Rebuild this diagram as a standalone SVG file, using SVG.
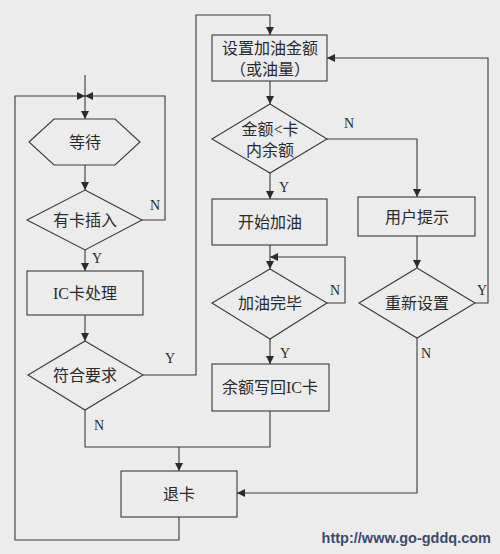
<svg xmlns="http://www.w3.org/2000/svg" width="500" height="554" viewBox="0 0 500 554">
<style>
.s{fill:none;stroke:#3a3a3a;stroke-width:1.1}
.c{fill:none;stroke:#3a3a3a;stroke-width:1.1}
.t{font-family:"Liberation Serif","Noto Sans CJK SC",serif;font-size:16px;fill:#2a2a2a;text-anchor:middle;dominant-baseline:central}
.l{font-family:"Liberation Serif","Noto Sans CJK SC",serif;font-size:14px;fill:#2a2a2a;text-anchor:middle;dominant-baseline:central}
</style>
<defs>
<marker id="a" viewBox="0 0 10 10" refX="10" refY="5" markerWidth="9" markerHeight="8" markerUnits="userSpaceOnUse" orient="auto">
<path d="M0,0 L10,5 L0,10 z" fill="#2a2a2a"/>
</marker>
</defs>
<rect width="500" height="554" fill="#ececec"/>
<g id="connectors">
<path class="c" d="M85,75 V119" marker-end="url(#a)"/>
<path class="c" d="M85,165 V190" marker-end="url(#a)"/>
<path class="c" d="M142,220 H165 V96 H85" marker-end="url(#a)"/>
<path class="c" d="M85,250 V271" marker-end="url(#a)"/>
<path class="c" d="M85,315 V341" marker-end="url(#a)"/>
<path class="c" d="M143,375 H196 V15 H270 V35" marker-end="url(#a)"/>
<path class="c" d="M270,411 V447 H85 V410"/>
<path class="c" d="M179,447 V471" marker-end="url(#a)"/>
<path class="c" d="M179,517 V540 H15 V96 H85" marker-end="url(#a)"/>
<path class="c" d="M270,81 V104" marker-end="url(#a)"/>
<path class="c" d="M270,173 V199" marker-end="url(#a)"/>
<path class="c" d="M327,139 H417 V197" marker-end="url(#a)"/>
<path class="c" d="M270,245 V269" marker-end="url(#a)"/>
<path class="c" d="M327,303 H345 V257 H270" marker-end="url(#a)"/>
<path class="c" d="M270,339 V364" marker-end="url(#a)"/>
<path class="c" d="M417,236 V268" marker-end="url(#a)"/>
<path class="c" d="M475,303 H488 V58 H327" marker-end="url(#a)"/>
<path class="c" d="M417,338 V493 H237" marker-end="url(#a)"/>
<text class="l" x="155" y="205">N</text>
<text class="l" x="97" y="258">Y</text>
<text class="l" x="170" y="358">Y</text>
<text class="l" x="99" y="425">N</text>
<text class="l" x="349" y="123">N</text>
<text class="l" x="284" y="187">Y</text>
<text class="l" x="335" y="290">N</text>
<text class="l" x="285" y="353">Y</text>
<text class="l" x="482" y="290">Y</text>
<text class="l" x="426" y="353">N</text>
</g>
<g id="wait"><polygon class="s" points="29,142 54,119 115,119 140,142 115,165 54,165"/><text class="t" x="85" y="142">等待</text></g>
<g id="cardIn"><polygon class="s" points="85,190 142,220 85,250 27,220"/><text class="t" x="85" y="220">有卡插入</text></g>
<g id="icProc"><rect class="s" x="27" y="271" width="116" height="44"/><text class="t" x="85" y="293">IC卡处理</text></g>
<g id="meets"><polygon class="s" points="85,341 143,375 85,410 28,375"/><text class="t" x="85" y="375">符合要求</text></g>
<g id="eject"><rect class="s" x="121" y="471" width="116" height="46"/><text class="t" x="179" y="494">退卡</text></g>
<g id="setAmount"><rect class="s" x="212" y="35" width="115" height="46"/><text class="t" x="270" y="48">设置加油金额</text><text class="t" x="270" y="69">（或油量）</text></g>
<g id="compare"><polygon class="s" points="270,104 327,139 270,173 212,139"/><text class="t" x="270" y="129">金额&lt;卡</text><text class="t" x="270" y="150">内余额</text></g>
<g id="startFuel"><rect class="s" x="212" y="199" width="115" height="46"/><text class="t" x="270" y="222">开始加油</text></g>
<g id="prompt"><rect class="s" x="358" y="197" width="117" height="39"/><text class="t" x="417" y="217">用户提示</text></g>
<g id="done"><polygon class="s" points="270,269 327,303 270,339 212,303"/><text class="t" x="270" y="303">加油完毕</text></g>
<g id="reset"><polygon class="s" points="417,268 475,303 417,338 359,303"/><text class="t" x="417" y="303">重新设置</text></g>
<g id="writeBack"><rect class="s" x="212" y="364" width="117" height="47"/><text class="t" x="270" y="387">余额写回IC卡</text></g>
<text x="491" y="543" font-family="'Liberation Sans',Arial,sans-serif" font-size="14.5" font-weight="bold" fill="#3c4a6e" text-anchor="end">http://www.go-gddq.com</text>
</svg>
